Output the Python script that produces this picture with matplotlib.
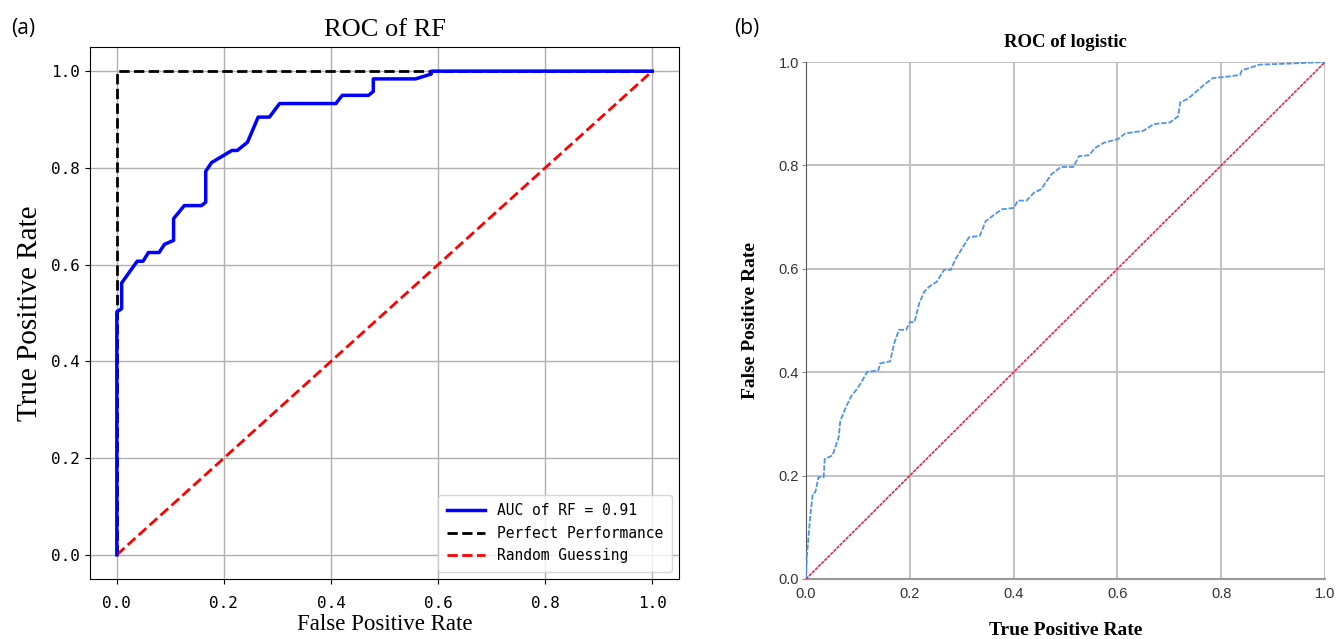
import matplotlib
matplotlib.use('Agg')
import matplotlib.pyplot as plt

# ROC of RF (panel a)
rf_fpr = [0.0, 0.0, 0.009, 0.009, 0.038, 0.049, 0.059, 0.079, 0.089, 0.106,
          0.106, 0.126, 0.158, 0.166, 0.166, 0.177, 0.215, 0.225, 0.244, 0.264,
          0.285, 0.304, 0.409, 0.421, 0.470, 0.479, 0.479, 0.558, 0.587, 0.588,
          1.0]
rf_tpr = [0.0, 0.502, 0.509, 0.562, 0.607, 0.607, 0.625, 0.625, 0.642, 0.650,
          0.695, 0.722, 0.722, 0.729, 0.793, 0.811, 0.836, 0.836, 0.853, 0.905,
          0.905, 0.933, 0.933, 0.950, 0.950, 0.958, 0.984, 0.984, 0.994, 1.0,
          1.0]
perfect_x = [0, 0, 1]
perfect_y = [0, 1, 1]
diag = [0, 1]

# ROC of logistic (panel b)
lg_x = [0.0, 0.002, 0.008, 0.013, 0.018, 0.024, 0.034, 0.036, 0.051, 0.063,
        0.066, 0.078, 0.088, 0.097, 0.107, 0.118, 0.139, 0.143, 0.162, 0.170,
        0.179, 0.193, 0.200, 0.209, 0.218, 0.228, 0.238, 0.252, 0.266, 0.279,
        0.287, 0.301, 0.314, 0.335, 0.346, 0.363, 0.377, 0.401, 0.408, 0.425,
        0.439, 0.453, 0.473, 0.491, 0.515, 0.526, 0.546, 0.556, 0.574, 0.601,
        0.615, 0.650, 0.670, 0.701, 0.717, 0.721, 0.736, 0.767, 0.784, 0.805,
        0.836, 0.840, 0.874, 0.930, 1.0]
lg_y = [0.0, 0.048, 0.119, 0.165, 0.168, 0.197, 0.197, 0.232, 0.239, 0.274,
        0.306, 0.335, 0.355, 0.366, 0.381, 0.401, 0.403, 0.417, 0.421, 0.456,
        0.482, 0.482, 0.497, 0.497, 0.533, 0.556, 0.566, 0.575, 0.598, 0.598,
        0.617, 0.640, 0.661, 0.664, 0.692, 0.705, 0.715, 0.718, 0.732, 0.732,
        0.747, 0.754, 0.783, 0.797, 0.797, 0.818, 0.820, 0.833, 0.844, 0.851,
        0.862, 0.867, 0.880, 0.883, 0.895, 0.922, 0.929, 0.956, 0.969, 0.971,
        0.975, 0.984, 0.995, 0.997, 1.0]

ticks = [0.0, 0.2, 0.4, 0.6, 0.8, 1.0]
tick_labels = ['0.0', '0.2', '0.4', '0.6', '0.8', '1.0']

fig = plt.figure(figsize=(13.38, 6.39), dpi=100)

# ---- panel (a)
ax1 = fig.add_axes([0.0673, 0.0939, 0.4402, 0.8326])
ax1.plot(rf_fpr, rf_tpr, color='blue', lw=2.5, label='AUC of RF = 0.91', zorder=4)
ax1.plot(perfect_x, perfect_y, color='black', lw=2, ls='--',
         label='Perfect Performance', zorder=3)
ax1.plot(diag, diag, color='red', lw=2, ls='--', label='Random Guessing', zorder=3)
ax1.set_xticks(ticks)
ax1.set_yticks(ticks)
ax1.set_xticklabels(tick_labels, family='DejaVu Sans Mono', fontsize=11.5)
ax1.set_yticklabels(tick_labels, family='DejaVu Sans Mono', fontsize=11.5)
ax1.tick_params(axis='x', pad=9)
ax1.grid(True, color='#b0b0b0', lw=1)
ax1.set_axisbelow(True)
ax1.set_title('ROC of RF', family='Liberation Serif', fontsize=19, pad=8)
ax1.set_xlabel('False Positive Rate', family='Liberation Serif', fontsize=16.5, labelpad=2)
ax1.set_ylabel('True Positive Rate', family='Liberation Serif', fontsize=21, labelpad=6)
ax1.legend(loc='lower right', prop={'family': 'DejaVu Sans Mono', 'size': 10.5},
           handlelength=2.6, borderpad=0.6, labelspacing=0.5)

# ---- panel (b)
ax2 = fig.add_axes([0.6024, 0.0939, 0.3879, 0.809])
ax2.plot(lg_x, lg_y, color='#4f93ee', lw=1.3, ls=(0, (3, 1)), zorder=3)
ax2.plot(diag, diag, color='#e8254a', lw=1.2, ls=(0, (2, 0.6)), zorder=3)
ax2.set_xlim(0, 1)
ax2.set_ylim(0, 1)
ax2.set_xticks(ticks)
ax2.set_yticks(ticks)
ax2.set_xticklabels(tick_labels, family='Liberation Sans', fontsize=10.5, color='#333333')
ax2.set_yticklabels(tick_labels, family='Liberation Sans', fontsize=10.5, color='#333333')
ax2.tick_params(axis='x', length=0, pad=6)
ax2.tick_params(axis='y', length=3, width=0.8, color='#888888', pad=2)
ax2.grid(True, color='#bdbdbd', lw=1.3)
ax2.set_axisbelow(True)
for side in ['top', 'right']:
    ax2.spines[side].set_visible(False)
ax2.spines['left'].set_color('#555555')
ax2.spines['bottom'].set_color('#999999')
ax2.spines['bottom'].set_linewidth(1.5)
ax2.set_title('ROC of logistic', family='Liberation Serif', fontweight='bold',
              fontsize=13.5, pad=11)
ax2.set_xlabel('True Positive Rate', family='Liberation Serif', fontweight='bold',
               fontsize=14, labelpad=15)
ax2.set_ylabel('False Positive Rate', family='Liberation Serif', fontweight='bold',
               fontsize=14, labelpad=14)

fig.text(0.008, 0.955, '(a)', family='Open Sans', fontsize=15, va='center')
fig.text(0.549, 0.955, '(b)', family='Open Sans', fontsize=15, va='center')

fig.savefig('out.png', dpi=100)
